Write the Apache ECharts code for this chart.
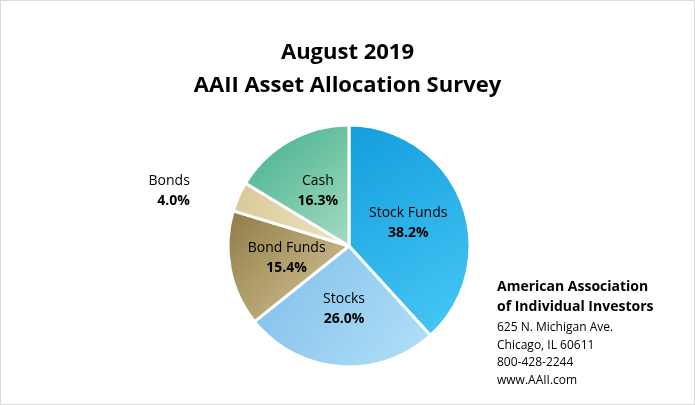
<!DOCTYPE html>
<html><head><meta charset="utf-8">
<script src="https://cdn.jsdelivr.net/npm/echarts@6/dist/echarts.min.js"></script>
<style>body{margin:0}#c{width:695px;height:405px;box-sizing:border-box;border:1px solid #d9d9d9}</style>
</head><body><div id="c"></div>
<script>
var names = ['Stock Funds', 'Stocks', 'Bond Funds', 'Bonds', 'Cash'];
var values = [38.2, 26.0, 15.4, 4.0, 16.3];
var colorPairs = [['#139ddc', '#48c9f7'], ['#7dbde9', '#b3e1f8'], ['#8f7a45', '#d9cb9c'], ['#d8c796', '#efe5c4'], ['#3fae8a', '#a6dcc2']];

var chart = echarts.init(document.getElementById('c'));
var data = names.map(function (n, i) {
  var d = {
    name: n, value: values[i],
    itemStyle: { color: new echarts.graphic.LinearGradient(0, 0, 1, 1, [{ offset: 0, color: colorPairs[i][0] }, { offset: 1, color: colorPairs[i][1] }]) }
  };
  if (n === 'Bonds') {
    d.label = { position: 'outside', distance: 10 };
    d.labelLine = { show: false };
  }
  return d;
});
chart.setOption({
  title: {
    text: 'August 2019\nAAII Asset Allocation Survey',
    left: 'center', top: 30,
    textStyle: { fontFamily: 'Open Sans', fontSize: 22, fontWeight: 'bold', color: '#000', lineHeight: 33 }
  },
  series: [{
    type: 'pie', center: [348, 245], radius: 121, startAngle: 90, clockwise: true,
    itemStyle: { borderColor: '#fff', borderWidth: 3 },
    labelLine: { show: false },
    label: {
      position: 'inside', fontFamily: 'Open Sans', fontSize: 14, color: '#000', lineHeight: 20,
      formatter: function (p) { return p.name + '\n{b|' + p.value.toFixed(1) + '%}'; },
      rich: { b: { fontWeight: 'bold', fontSize: 14, fontFamily: 'Open Sans' } }
    },
    data: data
  }],
  graphic: [
    { type: 'text', left: 496, top: 276, style: { text: 'American Association\nof Individual Investors', font: 'bold 14px Open Sans', lineHeight: 20, fill: '#000' } },
    { type: 'text', left: 496, top: 318, style: { text: '625 N. Michigan Ave.\nChicago, IL 60611\n800-428-2244\nwww.AAII.com', font: '12px Open Sans', lineHeight: 17.5, fill: '#000' } }
  ]
});
</script></body></html>
